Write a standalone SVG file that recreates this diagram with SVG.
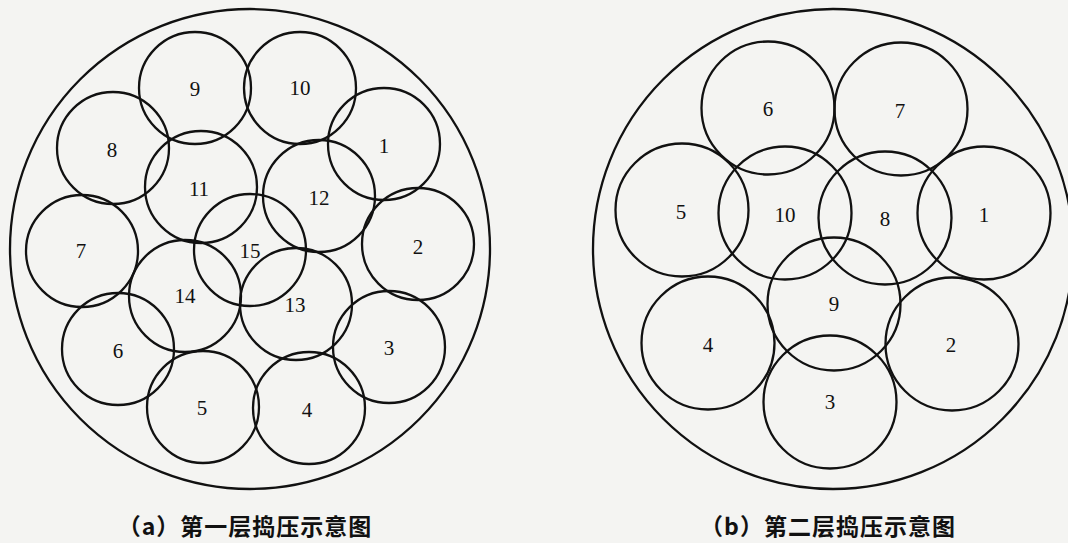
<svg xmlns="http://www.w3.org/2000/svg" width="1068" height="543" viewBox="0 0 1068 543">
<style>
.bg{fill:#f4f4f2}
.outer,.c,.d{fill:none;stroke:#111;stroke-width:2.3}
.n{font-family:"Liberation Serif","DejaVu Serif",serif;font-size:21px;fill:#111;text-anchor:middle;dominant-baseline:central}
.cap{font-family:"Noto Sans CJK SC","Liberation Sans",sans-serif;font-size:23px;font-weight:bold;letter-spacing:1px;fill:#111;text-anchor:middle}
</style>
<rect class="bg" x="0" y="0" width="1068" height="543"/>
<g id="layer-a">
<circle class="outer" cx="250" cy="249" r="240"/>
<g id="a9"><circle class="c" cx="195" cy="88" r="56"/><text class="n" x="195" y="89">9</text></g>
<g id="a10"><circle class="c" cx="300" cy="88" r="56"/><text class="n" x="300" y="88">10</text></g>
<g id="a1"><circle class="c" cx="384" cy="144" r="56"/><text class="n" x="384" y="146">1</text></g>
<g id="a8"><circle class="c" cx="113" cy="148" r="56"/><text class="n" x="112" y="150">8</text></g>
<g id="a11"><circle class="c" cx="201" cy="187" r="56"/><text class="n" x="199" y="189">11</text></g>
<g id="a12"><circle class="c" cx="319" cy="196" r="56"/><text class="n" x="319" y="198">12</text></g>
<g id="a2"><circle class="c" cx="418" cy="244" r="56"/><text class="n" x="418" y="247">2</text></g>
<g id="a7"><circle class="c" cx="82" cy="251" r="56"/><text class="n" x="81" y="251">7</text></g>
<g id="a15"><circle class="c" cx="250" cy="250" r="56"/><text class="n" x="250" y="251">15</text></g>
<g id="a14"><circle class="c" cx="185" cy="296" r="56"/><text class="n" x="185" y="296">14</text></g>
<g id="a13"><circle class="c" cx="296" cy="304" r="56"/><text class="n" x="295" y="305">13</text></g>
<g id="a6"><circle class="c" cx="118" cy="349" r="56"/><text class="n" x="118" y="351">6</text></g>
<g id="a3"><circle class="c" cx="389" cy="347" r="56"/><text class="n" x="389" y="348">3</text></g>
<g id="a5"><circle class="c" cx="203" cy="407" r="56"/><text class="n" x="202" y="408">5</text></g>
<g id="a4"><circle class="c" cx="309" cy="408" r="56"/><text class="n" x="307" y="410">4</text></g>
<text id="cap-a" class="cap" x="245" y="535">（a）第一层捣压示意图</text>
</g>
<g id="layer-b">
<circle class="outer" cx="833" cy="249" r="240"/>
<g id="b6"><circle class="d" cx="768" cy="108" r="66.5"/><text class="n" x="768" y="109">6</text></g>
<g id="b7"><circle class="d" cx="901" cy="109" r="66.5"/><text class="n" x="900" y="111">7</text></g>
<g id="b5"><circle class="d" cx="682" cy="210" r="66.5"/><text class="n" x="681" y="212">5</text></g>
<g id="b10"><circle class="d" cx="785" cy="213" r="66.5"/><text class="n" x="785" y="215">10</text></g>
<g id="b8"><circle class="d" cx="885" cy="218" r="66.5"/><text class="n" x="885" y="219">8</text></g>
<g id="b1"><circle class="d" cx="984" cy="213" r="66.5"/><text class="n" x="984" y="215">1</text></g>
<g id="b9"><circle class="d" cx="834" cy="304" r="66.5"/><text class="n" x="834" y="304">9</text></g>
<g id="b4"><circle class="d" cx="708" cy="343" r="66.5"/><text class="n" x="708" y="345">4</text></g>
<g id="b2"><circle class="d" cx="952" cy="344" r="66.5"/><text class="n" x="951" y="345">2</text></g>
<g id="b3"><circle class="d" cx="830" cy="402" r="66.5"/><text class="n" x="830" y="402">3</text></g>
<text id="cap-b" class="cap" x="828" y="535">（b）第二层捣压示意图</text>
</g>
</svg>
